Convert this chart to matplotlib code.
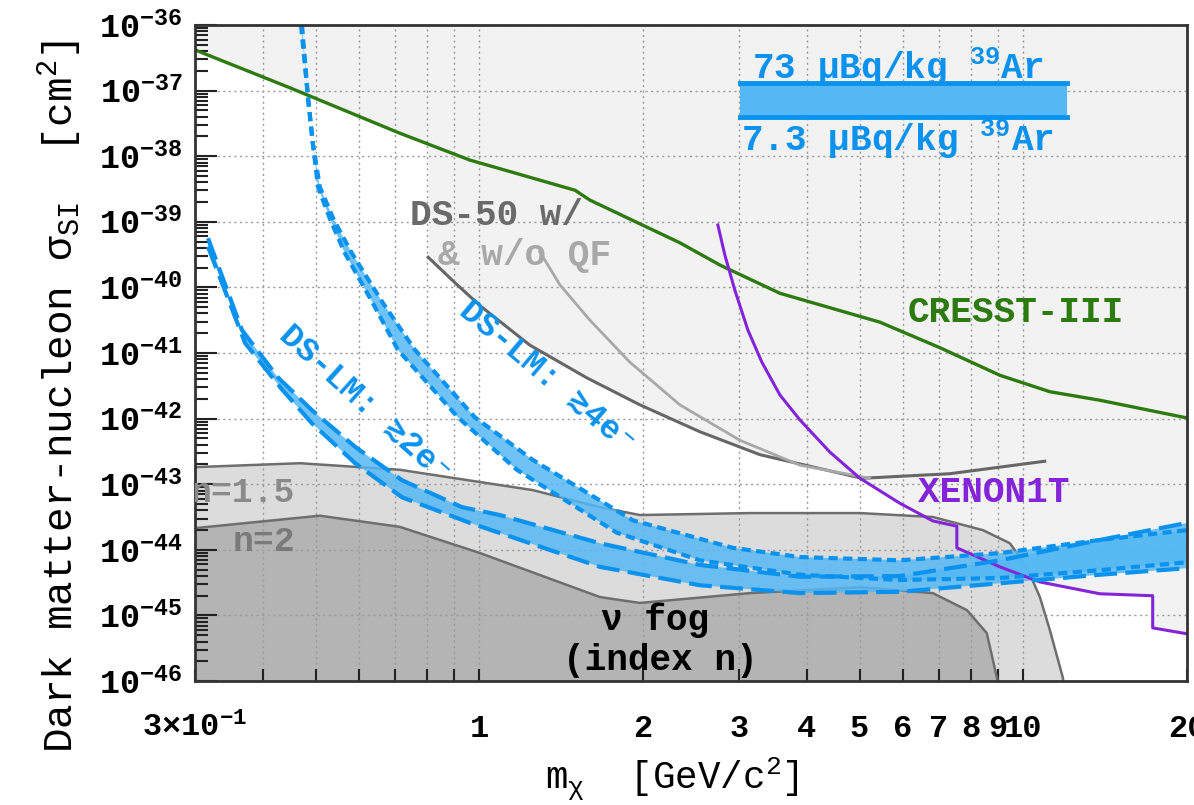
import matplotlib
matplotlib.use("Agg")
import matplotlib.pyplot as plt
import numpy as np
from matplotlib.patches import Rectangle
from matplotlib.ticker import FixedLocator, NullFormatter, LogLocator

MONO = ['Liberation Mono', 'DejaVu Sans Mono', 'DejaVu Sans']
plt.rcParams['font.family'] = MONO
plt.rcParams['font.weight'] = 'bold'
plt.rcParams['mathtext.fontset'] = 'custom'
plt.rcParams['mathtext.rm'] = 'Liberation Mono:bold'
plt.rcParams['mathtext.it'] = 'Liberation Mono:bold'
plt.rcParams['mathtext.bf'] = 'Liberation Mono:bold'

# masses in GeV/c^2, cross sections as log10(sigma / cm^2)
cresst_m = [0.30, 0.449, 0.714, 0.961, 1.50, 1.597, 2.337, 2.77, 3.57, 5.45, 7.03, 9.06,
            11.19, 13.83, 20.0]
cresst_s = [-36.38, -36.96, -37.65, -38.06, -38.52, -38.67, -39.32, -39.66, -40.09, -40.53,
            -40.92, -41.34, -41.59, -41.72, -41.99]

ds50_m = [0.805, 0.902, 1.003, 1.238, 1.577, 1.973, 2.543, 3.28, 5.05, 7.33, 10.95]
ds50_s = [-39.54, -39.93, -40.28, -40.88, -41.38, -41.79, -42.20, -42.55, -42.91, -42.84, -42.65]

ds50qf_m = [1.292, 1.406, 1.597, 1.891, 2.337, 3.013, 3.885, 5.22]
ds50qf_s = [-39.46, -39.96, -40.50, -41.14, -41.79, -42.33, -42.71, -42.91]

xenon_m = [2.745, 2.828, 2.949, 3.117, 3.307, 3.57, 3.885, 4.41, 5.01, 5.93, 6.82, 7.55, 7.55,
           9.06, 10.73, 13.83, 17.3, 17.3, 20.0]
xenon_s = [-39.05, -39.51, -40.04, -40.65, -41.14, -41.64, -42.02, -42.51, -42.91, -43.29,
           -43.56, -43.64, -43.97, -44.26, -44.49, -44.67, -44.70, -45.19, -45.28]

# neutrino fog, index n = 1.5 and n = 2
fog15_m = [0.30, 0.468, 0.714, 1.254, 1.666, 1.973, 3.144, 5.01, 6.82, 8.43, 9.45, 10.15,
           10.73, 11.19, 11.82, 11.9]
fog15_s = [-42.74, -42.68, -42.78, -43.09, -43.35, -43.47, -43.44, -43.44, -43.50, -43.70,
           -43.90, -44.26, -44.72, -45.22, -45.94, -46.1]
fog2_m = [0.30, 0.509, 0.714, 1.003, 1.666, 1.973, 3.144, 5.01, 6.82, 7.88, 8.57, 8.94, 9.0]
fog2_s = [-43.67, -43.48, -43.65, -44.05, -44.72, -44.81, -44.66, -44.57, -44.66, -44.92,
          -45.27, -45.94, -46.1]

# DS-LM >=2e- band (upper edge: 73 uBq/kg 39Ar, lower edge: 7.3 uBq/kg 39Ar)
e2_up_m = [0.317, 0.366, 0.426, 0.492, 0.591, 0.721, 0.929, 1.091, 1.666, 2.543, 3.885, 5.93,
           9.06, 13.83, 20.0]
e2_up_s = [-39.25, -40.65, -41.37, -41.87, -42.43, -42.94, -43.35, -43.47, -43.90, -44.23,
           -44.41, -44.40, -44.16, -43.85, -43.59]
e2_lo_m = [0.317, 0.371, 0.434, 0.492, 0.591, 0.721, 0.961, 1.666, 2.543, 3.885, 5.93, 9.06,
           13.83, 20.0]
e2_lo_s = [-39.38, -40.85, -41.56, -42.07, -42.68, -43.20, -43.59, -44.26, -44.54, -44.66,
           -44.64, -44.51, -44.38, -44.28]

# DS-LM >=4e- band
e4_up_m = [0.472, 0.484, 0.494, 0.509, 0.540, 0.583, 0.665, 0.761, 0.981, 1.254, 1.915, 2.925,
           3.885, 5.93, 9.06, 13.83, 20.0]
e4_up_s = [-36.0, -37.10, -37.80, -38.47, -38.97, -39.48, -40.24, -40.95, -41.98, -42.63,
           -43.55, -43.97, -44.11, -44.16, -44.05, -43.85, -43.70]
e4_lo_m = [0.470, 0.484, 0.494, 0.505, 0.532, 0.566, 0.637, 0.708, 0.913, 1.172, 1.79, 2.543,
           3.885, 5.93, 9.06, 13.83, 20.0]
e4_lo_s = [-36.0, -37.10, -37.80, -38.47, -38.97, -39.48, -40.24, -40.95, -41.98, -42.78,
           -43.74, -44.16, -44.38, -44.46, -44.43, -44.31, -44.19]

x_ticks = [0.3, 1, 2, 3, 4, 5, 6, 7, 8, 9, 10, 20]
x_labels = ['3×$\\mathdefault{10^{-1}}$', '1', '2', '3', '4', '5', '6', '7', '8', '9', '10', '20']
x_minor = [0.4, 0.5, 0.6, 0.7, 0.8, 0.9]

# colours
green = '#2d7a10'
purple = '#8424d8'
blue = '#0a92ee'
band_fill = '#55b8f4'
excl_gray = '#f2f2f2'
fog_light = '#dcdcdc'
fog_dark = '#b4b4b4'
edge_gray = '#6e6e6e'


def sig(v):
    return 10.0 ** np.asarray(v)


fig = plt.figure(figsize=(11.94, 8.05), dpi=100)
ax = fig.add_axes([0.1633, 0.154, 0.8308, 0.815])
ax.set_xscale('log')
ax.set_yscale('log')

# excluded region (above the existing limits)
top = 1e-35
ax.fill_between(cresst_m, sig(cresst_s), top, color=excl_gray, lw=0, zorder=0.1)
ax.fill_between(ds50_m, sig(ds50_s), top, color=excl_gray, lw=0, zorder=0.1)
ax.fill_between(xenon_m, sig(xenon_s), top, color=excl_gray, lw=0, zorder=0.1)

# neutrino fog
bottom = 1e-47
ax.fill_between(fog15_m, sig(fog15_s), bottom, color=fog_light, lw=0, zorder=0.2)
ax.fill_between(fog2_m, sig(fog2_s), bottom, color=fog_dark, lw=0, zorder=0.3)
ax.plot(fog15_m, sig(fog15_s), color=edge_gray, lw=1.8, zorder=1)
ax.plot(fog2_m, sig(fog2_s), color=edge_gray, lw=1.8, zorder=1)

# existing limits
ax.plot(cresst_m, sig(cresst_s), color=green, lw=2.4, zorder=2)
ax.plot(ds50_m, sig(ds50_s), color='#666666', lw=2.2, zorder=2)
ax.plot(ds50qf_m, sig(ds50qf_s), color='#a8a8a8', lw=2.0, zorder=2)
ax.plot(xenon_m, sig(xenon_s), color=purple, lw=2.2, zorder=2)

# DS-LM projections
for up_m, up_s, lo_m, lo_s, dash in [(e2_up_m, e2_up_s, e2_lo_m, e2_lo_s, (5.5, 2.0)),
                                     (e4_up_m, e4_up_s, e4_lo_m, e4_lo_s, (2.2, 1.3))]:
    poly_m = list(up_m) + list(lo_m)[::-1]
    poly_s = list(sig(up_s)) + list(sig(lo_s))[::-1]
    ax.fill(poly_m, poly_s, color=band_fill, alpha=0.85, lw=0, zorder=1.5)
    ax.plot(up_m, sig(up_s), color=blue, lw=3, dashes=dash, zorder=2.5)
    ax.plot(lo_m, sig(lo_s), color=blue, lw=3, dashes=dash, zorder=2.5)

# axes styling
ax.set_xlim(0.3, 20)
ax.set_ylim(1e-46, 1e-36)
ax.xaxis.set_major_locator(FixedLocator(x_ticks))
ax.xaxis.set_minor_locator(FixedLocator(x_minor))
ax.set_xticklabels(x_labels)
ax.xaxis.set_minor_formatter(NullFormatter())
ax.yaxis.set_major_locator(LogLocator(base=10, numticks=20))
ax.yaxis.set_minor_locator(LogLocator(base=10, subs=np.arange(2, 10), numticks=100))
ax.yaxis.set_minor_formatter(NullFormatter())

ax.tick_params(axis='both', which='both', direction='in', width=1.5, color='#222222')
ax.tick_params(axis='y', which='major', length=16, pad=9, labelsize=24)
ax.tick_params(axis='y', which='minor', length=9)
ax.tick_params(axis='x', which='major', length=9, pad=40, labelsize=23)
ax.tick_params(axis='x', which='minor', length=9)
for lbl in ax.get_xticklabels():
    lbl.set_verticalalignment('baseline')

ax.set_axisbelow(True)
ax.grid(True, axis='x', which='both', color='#9a9a9a', ls=(0, (1.5, 2.5)), lw=1.0)
ax.grid(True, axis='y', which='major', color='#9a9a9a', ls=(0, (1.5, 2.5)), lw=1.0)
for sp in ax.spines.values():
    sp.set_linewidth(2.0)
    sp.set_color('#333333')

ax.set_xlabel('m$_{\\mathdefault{χ}}$  [GeV/c$^{\\mathdefault{2}}$]', fontsize=27)
ax.set_ylabel('Dark matter-nucleon σ$_{\\mathdefault{SI}}$  [cm$^{\\mathdefault{2}}$]', fontsize=29.5)
ax.xaxis.set_label_coords(0.481, -0.112)
ax.yaxis.set_label_coords(-0.112, 0.434)

# labels
ax.text(6.13, 10**-40.39, 'CRESST-III', color=green, fontsize=26, va='center', ha='left')
ax.text(6.40, 10**-43.13, 'XENON1T', color=purple, fontsize=26, va='center', ha='left')
ax.text(0.746, 10**-38.90, 'DS-50 w/', color='#6a6a6a', fontsize=26, va='center', ha='left')
ax.text(0.839, 10**-39.51, '& w/o QF', color='#a8a8a8', fontsize=26, va='center', ha='left')
ax.text(0.294, 10**-43.12, 'n=1.5', color='#8a8a8a', fontsize=25, va='center', ha='left',
        clip_on=True)
ax.text(0.352, 10**-43.88, 'n=2', color='#7a7a7a', fontsize=25, va='center', ha='left')
ax.text(2.10, 10**-45.07, 'ν fog', color='black', fontsize=26, va='center', ha='center')
ax.text(2.15, 10**-45.68, '(index n)', color='black', fontsize=26, va='center', ha='center')
ax.text(0.616, 10**-41.79, 'DS-LM: ≳2e⁻', color=blue, fontsize=24, va='center', ha='center',
        rotation=-42, rotation_mode='anchor')
ax.text(1.337, 10**-41.38, 'DS-LM: ≳4e⁻', color=blue, fontsize=24, va='center', ha='center',
        rotation=-40, rotation_mode='anchor')

# key for the band edges
ax.add_patch(Rectangle((0.549, 0.860), 0.330, 0.052, transform=ax.transAxes,
                       facecolor=band_fill, edgecolor='none', zorder=3))
ax.plot([0.549, 0.879], [0.912, 0.912], transform=ax.transAxes, color=blue, lw=3.5, zorder=3.1)
ax.plot([0.549, 0.879], [0.860, 0.860], transform=ax.transAxes, color=blue, lw=3.5, zorder=3.1)
ax.text(0.708, 0.936, '73 µBq/kg $^{\\mathdefault{39}}$Ar', transform=ax.transAxes, color=blue,
        fontsize=26, ha='center', va='center')
ax.text(0.708, 0.826, '7.3 µBq/kg $^{\\mathdefault{39}}$Ar', transform=ax.transAxes, color=blue,
        fontsize=26, ha='center', va='center')

fig.savefig('out.png', dpi=100)
